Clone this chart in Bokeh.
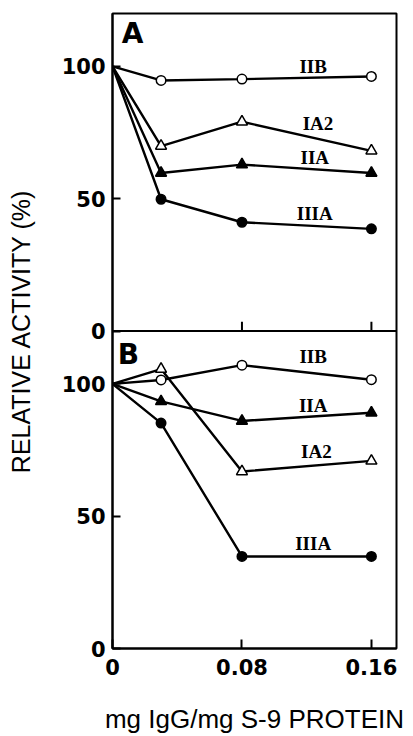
from bokeh.plotting import figure
from bokeh.models import Range1d, Span, FixedTicker
from bokeh.core.properties import value
from bokeh.embed import file_html
from bokeh.resources import INLINE

# ---- data ----
dose = [0, 0.03, 0.08, 0.16]            # mg IgG / mg S-9 protein
series = ["IIB", "IA2", "IIA", "IIIA"]
markers = {"IIB": ("circle", False), "IA2": ("triangle", False),
           "IIA": ("triangle", True), "IIIA": ("circle", True)}

panel_a = {
    "IIB":  [100, 94.7, 95.2, 96.2],
    "IA2":  [100, 69.9, 79.1, 68.1],
    "IIA":  [100, 59.7, 62.9, 59.7],
    "IIIA": [100, 49.8, 41.1, 38.6],
}
panel_b = {
    "IIB":  [100, 101.5, 107.1, 101.6],
    "IA2":  [100, 105.6, 66.9, 70.9],
    "IIA":  [100, 93.4, 86.0, 89.1],
    "IIIA": [100, 85.2, 34.8, 34.8],
}
# label anchor (x, y) for series names
labels_a = {"IIB": (0.124, 100.0), "IA2": (0.127, 78.4), "IIA": (0.125, 65.4), "IIIA": (0.125, 44.5)}
labels_b = {"IIB": (0.124, 110.2), "IIA": (0.124, 92.0), "IA2": (0.126, 74.4), "IIIA": (0.124, 39.6)}

y_ticks = [0, 50, 100]
x_ticks = [0, 0.08, 0.16]
panel_span = 120

# ---- figure ----
p = figure(width=405, height=736, output_backend="svg", toolbar_location=None,
           x_range=Range1d(0, 0.1755), y_range=Range1d(0, 2 * panel_span),
           min_border_left=112, min_border_top=13, min_border_bottom=88, min_border_right=9)
p.extra_y_ranges = {"a": Range1d(-panel_span, panel_span)}
p.xgrid.visible = False
p.ygrid.visible = False
p.outline_line_color = "black"
p.outline_line_width = 2

tick_font = "DejaVu Sans"
title_font = "Liberation Sans"

# y axis: panel B ticks on default range, panel A ticks shifted by panel span
yticks_all = y_ticks + [t + panel_span for t in y_ticks]
p.yaxis.ticker = FixedTicker(ticks=yticks_all)
p.yaxis.major_label_overrides = {t + panel_span: str(t) for t in y_ticks}
p.yaxis.major_tick_in = 8
p.yaxis.major_tick_out = 0
p.yaxis.minor_tick_line_color = None
p.yaxis.axis_line_width = 2
p.yaxis.major_tick_line_width = 2
p.yaxis.major_label_text_font = tick_font
p.yaxis.major_label_text_font_style = "bold"
p.yaxis.major_label_text_font_size = "21px"
p.yaxis.major_label_text_color = "black"
p.yaxis.major_label_standoff = 7
p.yaxis.axis_label = "RELATIVE ACTIVITY (%)"
p.yaxis.axis_label_text_font = title_font
p.yaxis.axis_label_text_font_style = "normal"
p.yaxis.axis_label_text_font_size = "25px"
p.yaxis.axis_label_text_color = "black"
p.yaxis.axis_label_standoff = 24

p.xaxis.ticker = FixedTicker(ticks=x_ticks)
p.xaxis.major_label_overrides = {0: "0"}
p.xaxis.major_tick_in = 9
p.xaxis.major_tick_out = 0
p.xaxis.minor_tick_line_color = None
p.xaxis.axis_line_width = 2
p.xaxis.major_tick_line_width = 2
p.xaxis.major_label_text_font = tick_font
p.xaxis.major_label_text_font_style = "bold"
p.xaxis.major_label_text_font_size = "21px"
p.xaxis.major_label_text_color = "black"
p.xaxis.major_label_standoff = 10
p.xaxis.axis_label = "mg IgG/mg S-9 PROTEIN"
p.xaxis.axis_label_text_font = title_font
p.xaxis.axis_label_text_font_style = "normal"
p.xaxis.axis_label_text_font_size = "26px"
p.xaxis.axis_label_text_color = "black"
p.xaxis.axis_label_standoff = 26

# divider between panels
p.add_layout(Span(location=0, dimension="width", y_range_name="a",
                  line_color="black", line_width=2))
# inward x ticks on panel A's bottom edge
p.segment(x0=x_ticks[1:], y0=[0] * 2, x1=x_ticks[1:], y1=[3.5] * 2,
          y_range_name="a", line_color="black", line_width=2)


def draw(data, labels, rng):
    kw = {} if rng is None else {"y_range_name": rng}
    for s in series:
        ys = data[s]
        p.line(dose, ys, line_color="black", line_width=2.4, **kw)
        m, filled = markers[s]
        size = 11 if m == "triangle" else 9.5
        p.scatter(dose[1:], ys[1:], marker=m, size=size,
                  fill_color="black" if filled else "white",
                  line_color="black", line_width=1.5, **kw)
        lx, ly = labels[s]
        p.text([lx], [ly], text=[s], text_font=value("Liberation Serif"),
               text_font_style="bold", text_font_size="19px", text_color="black",
               text_align="center", text_baseline="middle", **kw)


draw(panel_a, labels_a, "a")
draw(panel_b, labels_b, None)

# panel letters
p.text([0.0124], [112.3], text=["A"], text_font=value(tick_font), text_font_style="bold",
       text_font_size="28px", text_color="black", text_align="center",
       text_baseline="middle", y_range_name="a")
p.text([0.0099], [111.0], text=["B"], text_font=value(tick_font), text_font_style="bold",
       text_font_size="28px", text_color="black", text_align="center",
       text_baseline="middle")

open("out.html", "w").write(file_html(p, INLINE))
